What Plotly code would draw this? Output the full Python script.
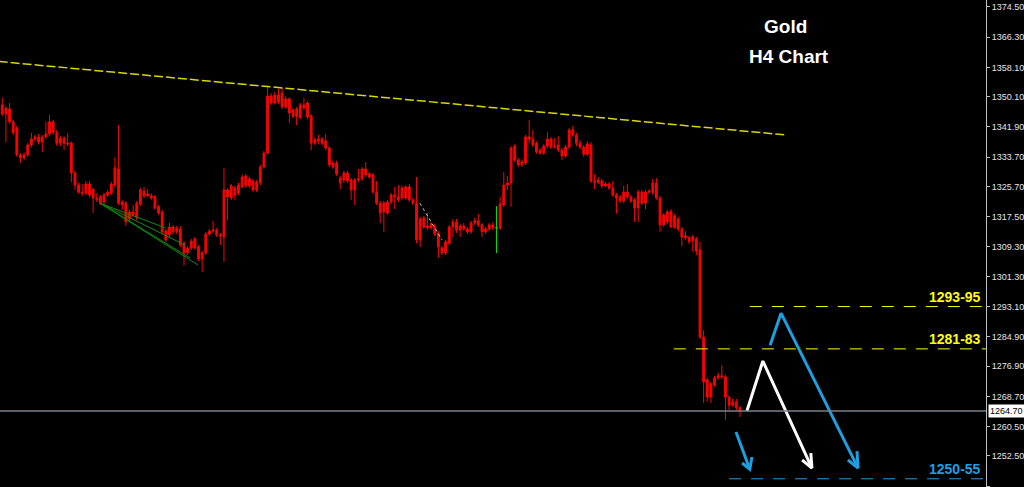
import plotly.graph_objects as go

# H4 bars, oldest first (index = bar number)
open_ = [
    1347.9, 1345.4, 1346.8, 1343.3, 1341.6, 1334.3, 1333.5, 1334.3, 1337.0, 1338.6,
    1339.2, 1337.8, 1339.2, 1340.0, 1343.3, 1340.5, 1337.5, 1338.9, 1337.5, 1337.5,
    1329.4, 1326.1, 1324.2, 1323.9, 1326.4, 1325.0, 1322.6, 1321.2, 1321.5, 1323.4,
    1323.9, 1326.1, 1330.5, 1321.5, 1321.2, 1316.9, 1318.8, 1317.2, 1321.0, 1324.5,
    1323.2, 1323.2, 1322.9, 1320.2, 1318.8, 1313.6, 1312.6, 1314.7, 1313.4, 1314.2,
    1310.3, 1307.7, 1309.0, 1311.5, 1309.3, 1306.0, 1307.7, 1312.8, 1313.6, 1313.9,
    1312.6, 1312.0, 1324.8, 1322.6, 1325.3, 1323.9, 1325.6, 1328.6, 1325.9, 1327.2,
    1324.8, 1326.7, 1331.0, 1334.8, 1350.3, 1348.4, 1350.6, 1351.1, 1347.3, 1349.5,
    1344.8, 1346.8, 1344.5, 1347.9, 1348.4, 1344.9, 1337.5, 1338.1, 1338.6, 1338.1,
    1336.2, 1332.1, 1332.1, 1328.0, 1327.5, 1329.4, 1327.5, 1324.8, 1327.5, 1327.8,
    1330.5, 1329.2, 1328.9, 1324.2, 1321.2, 1318.8, 1318.5, 1321.5, 1323.4, 1322.9,
    1322.6, 1322.6, 1325.6, 1322.1, 1321.2, 1311.2, 1314.7, 1315.0, 1314.5, 1315.0,
    1313.1, 1309.0, 1307.7, 1310.3, 1314.7, 1316.1, 1313.9, 1315.0, 1314.2, 1313.4,
    1315.8, 1316.4, 1315.3, 1313.4, 1314.2, 1315.3, 1314.5, 1314.4, 1320.7, 1326.1,
    1326.7, 1336.7, 1332.9, 1331.6, 1332.1, 1339.2, 1338.6, 1337.5, 1335.6, 1334.8,
    1336.7, 1338.6, 1336.4, 1337.0, 1335.6, 1334.0, 1336.4, 1341.1, 1339.7, 1337.5,
    1336.4, 1334.5, 1337.0, 1327.2, 1326.9, 1327.2, 1325.9, 1326.4, 1325.3, 1323.4,
    1322.9, 1321.8, 1324.2, 1322.9, 1322.1, 1319.9, 1324.2, 1321.2, 1324.2, 1324.0,
    1326.7, 1322.6, 1315.3, 1318.8, 1319.0, 1314.7, 1316.9, 1314.2, 1312.3, 1311.8,
    1311.0, 1311.5, 1308.5, 1284.8, 1273.2, 1268.5, 1271.8, 1273.7, 1274.3, 1274.0,
    1268.5, 1266.3, 1267.2, 1265.6,
]
high = [
    1349.8, 1347.6, 1348.4, 1343.8, 1342.2, 1334.8, 1335.0, 1337.5, 1340.3, 1339.7,
    1340.0, 1339.7, 1343.3, 1345.2, 1343.8, 1341.1, 1339.4, 1339.4, 1340.3, 1338.0,
    1330.0, 1326.7, 1326.4, 1327.2, 1327.2, 1325.3, 1323.9, 1323.4, 1324.0, 1324.8,
    1327.0, 1333.7, 1342.4, 1322.1, 1321.8, 1319.4, 1320.7, 1321.8, 1325.3, 1325.6,
    1325.0, 1323.9, 1323.4, 1320.7, 1319.4, 1314.2, 1315.8, 1315.3, 1315.0, 1315.0,
    1310.9, 1309.5, 1311.5, 1312.0, 1309.8, 1308.2, 1313.4, 1314.2, 1316.4, 1314.5,
    1313.1, 1330.8, 1325.3, 1326.4, 1325.9, 1326.7, 1328.9, 1329.1, 1328.3, 1327.8,
    1327.5, 1331.6, 1335.4, 1352.8, 1351.1, 1351.4, 1352.2, 1352.5, 1350.3, 1350.0,
    1347.0, 1347.3, 1348.4, 1349.8, 1349.0, 1345.4, 1339.0, 1339.7, 1339.2, 1340.0,
    1336.7, 1332.7, 1332.7, 1328.6, 1330.0, 1330.0, 1328.0, 1328.0, 1330.5, 1331.0,
    1332.4, 1329.7, 1329.4, 1327.2, 1321.8, 1321.8, 1322.1, 1324.0, 1325.6, 1326.1,
    1325.9, 1326.1, 1326.4, 1322.6, 1328.3, 1317.5, 1317.7, 1318.5, 1316.1, 1315.6,
    1313.6, 1309.5, 1311.2, 1315.3, 1316.9, 1316.9, 1315.6, 1315.8, 1314.7, 1316.4,
    1317.2, 1318.3, 1315.8, 1314.7, 1315.8, 1316.1, 1320.4, 1322.9, 1329.7, 1328.6,
    1336.7, 1337.2, 1333.5, 1333.0, 1339.7, 1343.8, 1341.1, 1338.0, 1336.2, 1337.2,
    1340.5, 1339.2, 1338.9, 1339.4, 1336.2, 1337.0, 1341.6, 1342.2, 1340.3, 1338.4,
    1337.0, 1338.0, 1337.8, 1329.1, 1328.3, 1327.8, 1326.9, 1327.0, 1327.2, 1324.0,
    1323.4, 1325.9, 1326.4, 1323.4, 1322.6, 1324.8, 1324.8, 1324.8, 1325.0, 1327.8,
    1328.0, 1323.2, 1318.5, 1319.4, 1319.6, 1318.3, 1317.5, 1314.7, 1313.6, 1312.3,
    1312.6, 1312.0, 1310.7, 1286.7, 1273.7, 1272.6, 1274.3, 1275.1, 1277.2, 1274.6,
    1269.0, 1268.0, 1268.0, 1266.1,
]
low = [
    1344.9, 1337.8, 1342.8, 1339.7, 1333.8, 1332.1, 1332.9, 1333.8, 1336.4, 1338.0,
    1337.2, 1335.1, 1338.6, 1339.4, 1339.7, 1336.7, 1336.7, 1335.6, 1336.7, 1326.9,
    1324.8, 1323.7, 1323.1, 1323.4, 1322.9, 1318.5, 1321.5, 1320.7, 1320.9, 1322.9,
    1323.4, 1325.6, 1320.7, 1319.4, 1315.0, 1316.1, 1317.5, 1316.6, 1320.4, 1322.6,
    1322.9, 1322.1, 1319.4, 1318.0, 1312.8, 1310.7, 1312.0, 1312.8, 1312.8, 1309.3,
    1304.3, 1307.1, 1308.5, 1308.5, 1305.5, 1302.5, 1307.1, 1312.3, 1313.1, 1312.0,
    1309.8, 1305.2, 1316.6, 1322.1, 1322.1, 1323.4, 1325.3, 1325.3, 1325.3, 1324.2,
    1324.2, 1326.1, 1330.5, 1334.3, 1347.9, 1348.0, 1348.1, 1346.8, 1346.8, 1343.0,
    1344.3, 1342.4, 1344.0, 1346.5, 1344.0, 1335.6, 1336.9, 1337.2, 1336.9, 1335.6,
    1331.0, 1330.5, 1328.6, 1325.0, 1326.7, 1326.7, 1322.1, 1320.7, 1327.0, 1327.2,
    1328.3, 1327.8, 1323.7, 1320.7, 1315.8, 1313.4, 1318.0, 1320.9, 1319.6, 1321.5,
    1322.1, 1322.1, 1321.5, 1320.7, 1310.3, 1309.3, 1314.2, 1314.0, 1314.0, 1312.3,
    1306.3, 1307.1, 1307.1, 1309.8, 1312.0, 1313.1, 1312.0, 1313.6, 1312.8, 1312.8,
    1315.3, 1314.7, 1312.0, 1312.8, 1313.6, 1313.9, 1307.6, 1313.9, 1320.2, 1324.8,
    1320.2, 1332.4, 1331.0, 1331.0, 1331.6, 1337.5, 1336.4, 1334.6, 1334.3, 1334.3,
    1336.2, 1335.9, 1336.0, 1335.1, 1332.9, 1333.5, 1336.0, 1339.2, 1336.7, 1335.9,
    1333.8, 1334.0, 1326.7, 1325.0, 1326.4, 1325.3, 1325.6, 1324.8, 1322.9, 1318.3,
    1321.2, 1321.2, 1322.4, 1321.2, 1316.1, 1316.1, 1320.7, 1319.6, 1323.7, 1323.4,
    1322.1, 1313.4, 1314.7, 1315.6, 1314.5, 1314.2, 1313.6, 1309.5, 1311.2, 1310.1,
    1308.0, 1307.1, 1284.3, 1266.9, 1267.2, 1266.9, 1271.3, 1273.2, 1273.5, 1262.3,
    1265.0, 1265.8, 1264.8, 1263.1,
]
close = [
    1345.4, 1347.0, 1343.3, 1340.3, 1334.3, 1333.5, 1334.3, 1337.0, 1338.6, 1339.2,
    1337.8, 1339.2, 1340.0, 1343.3, 1340.5, 1337.5, 1338.9, 1337.5, 1337.3, 1329.4,
    1326.1, 1324.2, 1323.9, 1326.4, 1323.4, 1322.6, 1322.1, 1322.9, 1323.4, 1324.2,
    1326.4, 1330.8, 1321.2, 1320.7, 1316.1, 1318.8, 1318.0, 1321.2, 1324.8, 1323.2,
    1323.7, 1322.6, 1319.9, 1318.5, 1313.4, 1311.2, 1314.7, 1313.4, 1314.4, 1309.8,
    1307.7, 1308.9, 1310.9, 1309.0, 1306.0, 1307.7, 1312.8, 1313.6, 1313.9, 1312.6,
    1312.3, 1324.8, 1322.9, 1325.9, 1323.4, 1326.1, 1328.3, 1325.9, 1327.8, 1324.8,
    1326.9, 1331.0, 1334.8, 1350.3, 1348.4, 1350.6, 1348.7, 1347.3, 1349.5, 1345.7,
    1346.5, 1344.8, 1347.9, 1347.1, 1344.6, 1337.5, 1338.4, 1338.6, 1337.5, 1336.2,
    1331.6, 1331.0, 1329.1, 1326.7, 1329.4, 1327.2, 1324.8, 1327.5, 1327.8, 1330.5,
    1328.9, 1328.3, 1324.2, 1321.2, 1318.5, 1321.2, 1321.5, 1323.4, 1322.9, 1322.1,
    1325.3, 1325.6, 1322.1, 1321.2, 1311.2, 1316.9, 1317.2, 1314.5, 1315.6, 1312.8,
    1309.3, 1307.7, 1310.7, 1314.7, 1316.1, 1313.9, 1315.0, 1314.2, 1313.4, 1315.8,
    1316.4, 1315.3, 1313.4, 1314.2, 1315.3, 1314.5, 1314.5, 1321.0, 1326.1, 1326.7,
    1336.2, 1332.9, 1331.6, 1332.4, 1339.2, 1338.6, 1337.0, 1335.1, 1334.8, 1336.7,
    1338.6, 1336.4, 1336.7, 1335.6, 1334.0, 1336.4, 1341.1, 1339.7, 1337.5, 1336.4,
    1334.5, 1337.3, 1327.2, 1326.9, 1327.5, 1325.9, 1326.4, 1325.3, 1323.4, 1322.6,
    1321.8, 1324.2, 1322.9, 1321.8, 1319.9, 1324.2, 1321.2, 1324.2, 1324.5, 1326.7,
    1322.6, 1315.3, 1318.0, 1316.1, 1314.7, 1317.7, 1314.2, 1312.0, 1311.8, 1310.7,
    1312.0, 1308.2, 1284.8, 1272.6, 1268.5, 1272.1, 1273.7, 1274.3, 1274.0, 1268.5,
    1266.3, 1267.2, 1265.6, 1264.7,
]
GREEN_BAR = 136  # the highlighted bar

# price scale labels (MT4 style, uneven steps)
tick_vals = [1374.5, 1366.3, 1358.1, 1350.1, 1341.9, 1333.7, 1325.7, 1317.5, 1309.3,
             1301.3, 1293.1, 1284.9, 1276.9, 1268.7, 1260.5, 1252.5, 1244.3]

# drawn objects (bar index, price)
trend_x = [-1, 215.9]
trend_y = [1359.7, 1339.7]

fan_start = (26.9, 1321.2)
fan_end_x = [53.85, 51.65, 50.3, 44.8]
fan_end_y = [1304.4, 1306.3, 1309.8, 1314.5]

dotted_x = [114.9, 121.0]
dotted_y = [1321.2, 1311.2]

level_names = ["1293-95", "1281-83", "1250-55"]
level_prices = [1293.1, 1281.6, 1246.3]
level_from = [205.7, 184.8, 200.0]
level_colors = ["#ffff00", "#ffff00", "#1e9fe0"]

white_path_x = [204.9, 209.3, 222.8]
white_path_y = [1264.7, 1278.3, 1249.2]
white_head_x = [220.1, 222.8, 222.5]
white_head_y = [1251.4, 1249.2, 1253.3]

blue_path_x = [211.3, 214.3, 235.5]
blue_path_y = [1282.6, 1291.3, 1249.2]
blue_head_x = [232.7, 235.5, 235.2]
blue_head_y = [1251.4, 1249.2, 1253.8]

small_path_x = [201.9, 205.7]
small_path_y = [1259.0, 1248.9]
small_head_x = [203.6, 205.7, 206.3]
small_head_y = [1250.6, 1248.9, 1252.2]

X_RANGE = [-0.63, 270.7]
Y_RANGE = [1244.07, 1376.4]
RED = "#ff0000"
BLUE = "#1e9fe0"
FONT = "Liberation Sans, Arial"

bars = [i for i in range(len(close)) if i != GREEN_BAR]

fig = go.Figure()

fig.add_trace(go.Candlestick(
    x=bars,
    open=[open_[i] for i in bars], high=[high[i] for i in bars],
    low=[low[i] for i in bars], close=[close[i] for i in bars],
    increasing=dict(line=dict(color=RED, width=1), fillcolor=RED),
    decreasing=dict(line=dict(color=RED, width=1), fillcolor=RED),
    whiskerwidth=0, hoverinfo="skip", showlegend=False,
))
fig.add_trace(go.Candlestick(
    x=[GREEN_BAR],
    open=[open_[GREEN_BAR]], high=[high[GREEN_BAR]],
    low=[low[GREEN_BAR]], close=[close[GREEN_BAR]],
    increasing=dict(line=dict(color="#00e000", width=1), fillcolor="#00e000"),
    decreasing=dict(line=dict(color="#00e000", width=1), fillcolor="#00e000"),
    whiskerwidth=0, hoverinfo="skip", showlegend=False,
))

# resistance trend line
fig.add_trace(go.Scatter(x=trend_x, y=trend_y, mode="lines", hoverinfo="skip",
                         line=dict(color="#d8d800", width=1.5, dash="9px,3px"),
                         showlegend=False))

# green fan
for ex, ey in zip(fan_end_x, fan_end_y):
    fig.add_trace(go.Scatter(x=[fan_start[0], ex], y=[fan_start[1], ey], mode="lines",
                             line=dict(color="#0c8c0c", width=1), hoverinfo="skip",
                             showlegend=False))

fig.add_trace(go.Scatter(x=dotted_x, y=dotted_y, mode="lines", hoverinfo="skip",
                         line=dict(color="#c8c8c8", width=1, dash="dot"), showlegend=False))

# target levels
for name, price, x0, col in zip(level_names, level_prices, level_from, level_colors):
    fig.add_trace(go.Scatter(x=[x0, X_RANGE[1]], y=[price, price], mode="lines",
                             line=dict(color=col, width=1, dash="12px,10px"),
                             hoverinfo="skip", showlegend=False))
    fig.add_annotation(x=269.9, y=price, text="<b>%s</b>" % name, showarrow=False,
                       xanchor="right", yanchor="bottom", yshift=0,
                       font=dict(family=FONT, size=14, color=col))

# scenario arrows
for px, py, hx, hy, col in [
    (white_path_x, white_path_y, white_head_x, white_head_y, "#ffffff"),
    (blue_path_x, blue_path_y, blue_head_x, blue_head_y, BLUE),
    (small_path_x, small_path_y, small_head_x, small_head_y, BLUE),
]:
    fig.add_trace(go.Scatter(x=px, y=py, mode="lines", line=dict(color=col, width=3),
                             hoverinfo="skip", showlegend=False))
    fig.add_trace(go.Scatter(x=hx, y=hy, mode="lines", line=dict(color=col, width=3),
                             hoverinfo="skip", showlegend=False))

# current price line + label
fig.add_hline(y=close[-1], line_color="#7a8087", line_width=1.5)
fig.add_annotation(xref="paper", x=1.0, y=close[-1], text="%.2f" % close[-1],
                   showarrow=False, xanchor="left", xshift=2, bgcolor="#ffffff",
                   font=dict(family=FONT, size=9, color="#000000"), borderpad=1)

fig.add_annotation(xref="paper", yref="paper", x=0.797, y=0.945, text="<b>Gold</b>",
                   showarrow=False, xanchor="center", yanchor="middle",
                   font=dict(family=FONT, size=19, color="#ffffff"))
fig.add_annotation(xref="paper", yref="paper", x=0.800, y=0.885, text="<b>H4 Chart</b>",
                   showarrow=False, xanchor="center", yanchor="middle",
                   font=dict(family=FONT, size=19, color="#ffffff"))

fig.update_layout(
    width=1024, height=487,
    margin=dict(l=0, r=38, t=0, b=0),
    paper_bgcolor="#000000",
    plot_bgcolor="#000000",
    showlegend=False,
    xaxis=dict(range=X_RANGE, visible=False, rangeslider=dict(visible=False),
               showgrid=False, zeroline=False),
    yaxis=dict(range=Y_RANGE, side="right", showgrid=False, zeroline=False,
               tickvals=tick_vals, ticktext=["%.2f" % v for v in tick_vals],
               ticks="outside", ticklen=3, tickcolor="#c0c0c0",
               showline=True, linecolor="#c0c0c0", linewidth=1,
               tickfont=dict(family=FONT, size=9, color="#e6e6e6")),
)

fig.write_html("out.html", config={"displayModeBar": False},
               post_script="document.body.style.margin='0';"
                           "document.body.style.overflow='hidden';"
                           "document.body.style.background='#000';")
